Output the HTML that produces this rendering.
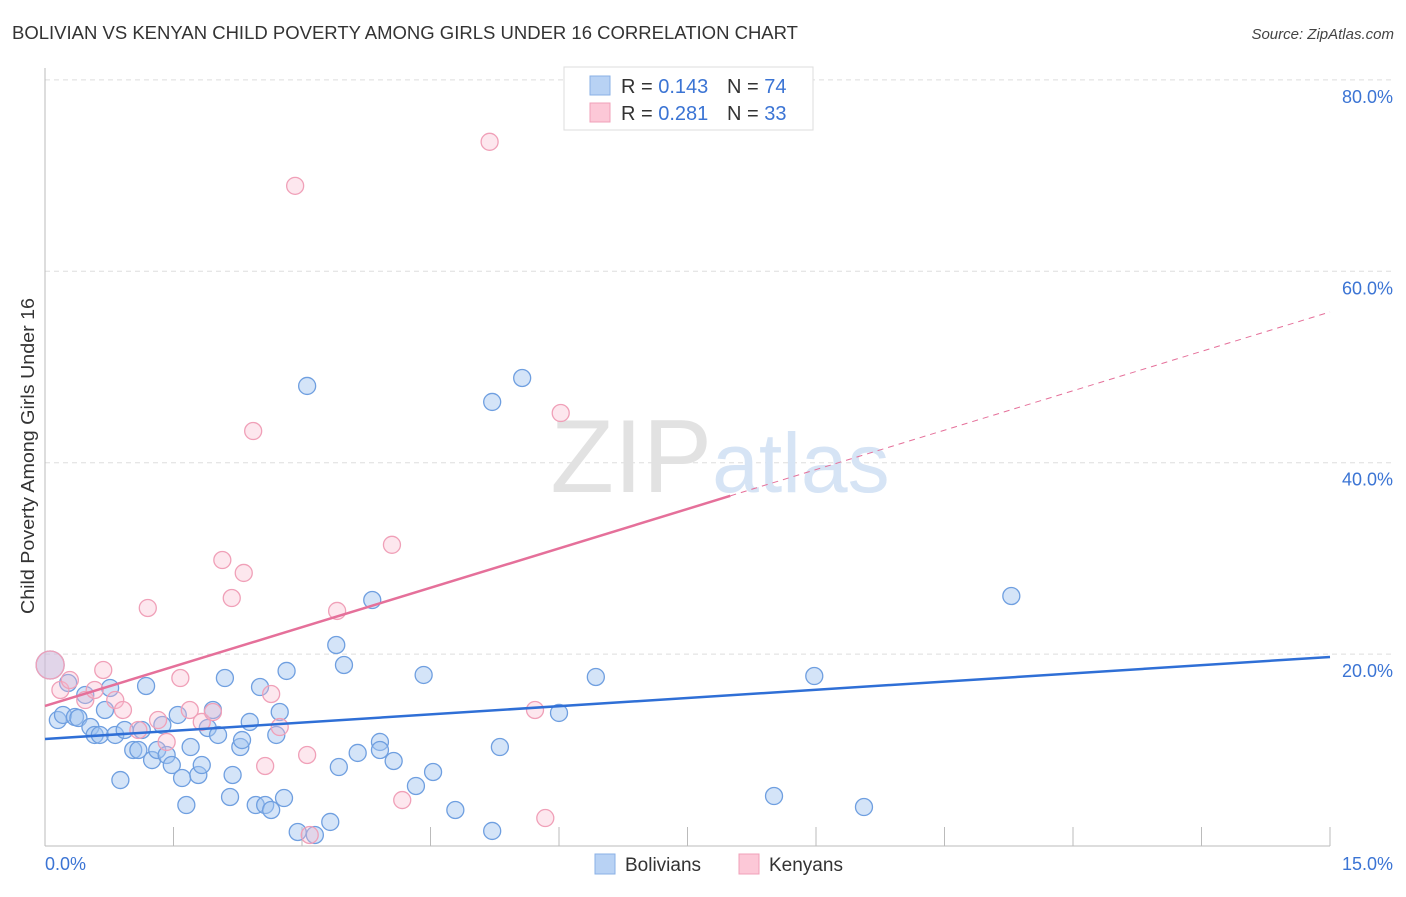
<!DOCTYPE html>
<html><head><meta charset="utf-8"><style>
body{margin:0;background:#fff;font-family:"Liberation Sans",sans-serif;}
svg text{font-family:"Liberation Sans",sans-serif;}
</style></head><body>
<svg id="chart" width="1406" height="892" xmlns="http://www.w3.org/2000/svg">
<text x="12" y="39" font-size="18" fill="#333" textLength="786" lengthAdjust="spacingAndGlyphs">BOLIVIAN VS KENYAN CHILD POVERTY AMONG GIRLS UNDER 16 CORRELATION CHART</text>
<text x="1394" y="39" font-size="15" fill="#444" text-anchor="end" font-style="italic">Source: ZipAtlas.com</text>
<text transform="translate(34,456) rotate(-90)" font-size="18" fill="#333" text-anchor="middle" textLength="316" lengthAdjust="spacingAndGlyphs">Child Poverty Among Girls Under 16</text>
<g id="grid"></g>
<g id="axes"></g>
<text x="720" y="492" font-size="104" text-anchor="middle" fill="#e2e2e2" font-family="Liberation Serif">ZIP<tspan fill="#d6e4f5" font-family="Liberation Sans" font-size="84">atlas</tspan></text>
<g id="points"></g>
<g id="lines"></g>
<g>
<rect x="564" y="67" width="249" height="63" fill="#fff" stroke="#ddd"/>
<rect x="590" y="76" width="20" height="19" fill="#b8d2f4" stroke="#8ab0e6"/>
<rect x="590" y="103" width="20" height="19" fill="#fcc8d7" stroke="#f0a0b8"/>
<text x="621" y="93" font-size="20" fill="#333">R = <tspan fill="#3b74d4">0.143</tspan></text>
<text x="727" y="93" font-size="20" fill="#333">N = <tspan fill="#3b74d4">74</tspan></text>
<text x="621" y="120" font-size="20" fill="#333">R = <tspan fill="#3b74d4">0.281</tspan></text>
<text x="727" y="120" font-size="20" fill="#333">N = <tspan fill="#3b74d4">33</tspan></text>
</g>
<g>
<rect x="595" y="854" width="20" height="20" fill="#b8d2f4" stroke="#8ab0e6"/>
<text x="625" y="871" font-size="19" fill="#333">Bolivians</text>
<rect x="739" y="854" width="20" height="20" fill="#fcc8d7" stroke="#f0a0b8"/>
<text x="769" y="871" font-size="19" fill="#333">Kenyans</text>
</g>
</svg>
<script>
const yTicks=[20,40,60,80];
const yTickLabels=["20.0%","40.0%","60.0%","80.0%"];
const xTickVals=[0,1.5,3,4.5,6,7.5,9,10.5,12,13.5,15];
const xEndLabels=["0.0%","15.0%"];
const blueX=[0.06,0.15,0.21,0.27,0.35,0.39,0.47,0.53,0.58,0.64,0.70,0.76,0.82,0.88,0.93,1.03,1.09,1.13,1.18,1.25,1.31,1.37,1.42,1.48,1.55,1.60,1.65,1.70,1.79,1.83,1.90,1.96,2.02,2.10,2.16,2.19,2.28,2.30,2.39,2.46,2.51,2.57,2.64,2.70,2.74,2.79,2.82,2.95,3.06,3.15,3.33,3.40,3.43,3.49,3.65,3.82,3.91,3.91,4.07,4.33,4.42,4.53,4.79,5.22,5.22,5.31,5.57,6.00,6.43,8.51,8.98,9.56,11.28];
const blueY=[18.86,13.11,13.64,16.98,13.43,13.32,15.73,12.38,11.55,11.55,14.16,16.46,11.55,6.84,12.07,9.98,9.98,12.07,16.67,8.93,9.98,12.59,9.46,8.41,13.64,7.05,4.23,10.29,7.37,8.41,12.28,14.16,11.55,17.50,5.07,7.37,10.29,11.02,12.91,4.23,16.56,4.23,3.71,11.55,13.95,4.96,18.24,1.41,48.02,1.10,2.46,20.95,8.20,18.86,9.67,25.65,10.82,9.98,8.83,6.22,17.82,7.68,3.71,46.35,1.52,10.29,48.85,13.85,17.61,5.17,17.71,4.02,26.07];
const pinkX=[0.06,0.18,0.29,0.47,0.58,0.68,0.82,0.91,1.09,1.20,1.32,1.42,1.58,1.69,1.83,1.96,2.07,2.18,2.32,2.43,2.57,2.64,2.74,2.92,3.06,3.09,3.41,4.05,4.17,5.19,5.72,5.84,6.02];
const pinkY=[18.86,16.25,17.29,15.20,16.25,18.34,15.20,14.16,12.07,24.82,13.11,10.82,17.50,14.16,12.91,13.95,29.83,25.86,28.48,43.31,8.31,15.83,12.38,68.93,9.46,1.10,24.51,31.42,4.75,73.53,14.16,2.87,45.19];
const blueTrend=[11.13,19.70];
const pinkTrend=[14.58,55.75];
const pinkSolidEnd=8.0;

const NS="http://www.w3.org/2000/svg";
const X=v=>45+v/15*1285;
const Y=v=>845.5-v*9.57;
function mk(tag,attrs,parent){const e=document.createElementNS(NS,tag);for(const k in attrs)e.setAttribute(k,attrs[k]);document.getElementById(parent).appendChild(e);return e;}
yTicks.forEach((t,i)=>{
 const l=mk('line',{x1:45,x2:1393,y1:Y(t),y2:Y(t),stroke:'#ddd','stroke-dasharray':'5,4'},'grid');
 
 
 const tx=mk('text',{x:1393,y:Y(t)+23,'font-size':18,fill:'#3b74d4','text-anchor':'end'},'axes');
 
 
 tx.textContent=yTickLabels[i];
});
const ax=mk('line',{x1:45,x2:45,y1:68,y2:846,stroke:'#bbb'},'axes');


const bx=mk('line',{x1:45,x2:1330,y1:846,y2:846,stroke:'#bbb'},'axes');


xTickVals.forEach(v=>{
 const t=mk('line',{x1:X(v),x2:X(v),y1:827,y2:846,stroke:'#bbb'},'axes');
 
 
});
[[0,'start',45],[15,'end',1393]].forEach((a,i)=>{
 const t=mk('text',{x:a[2],y:870,'font-size':18,fill:'#3b74d4','text-anchor':a[1]},'axes');
 
 
 t.textContent=xEndLabels[i];
});
function dots(xs,ys,fill,stroke,name){
 xs.forEach((x,i)=>{
  const r=i===0?14:8.5;
  const c=mk('circle',{cx:X(x),cy:Y(ys[i]),r:r,fill:fill,stroke:stroke,'stroke-width':1.3},'points');
  
  
 });
}
dots(blueX,blueY,'rgba(160,195,240,0.45)','#6f9fe0','bolivian-point');
dots(pinkX,pinkY,'rgba(250,185,205,0.35)','#f0a0b8','kenyan-point');
const bl=mk('line',{x1:X(0),y1:Y(blueTrend[0]),x2:X(15),y2:Y(blueTrend[1]),stroke:'#2f6fd6','stroke-width':2.5},'lines');


const py=x=>pinkTrend[0]+(pinkTrend[1]-pinkTrend[0])*x/15;
const pl=mk('line',{x1:X(0),y1:Y(py(0)),x2:X(pinkSolidEnd),y2:Y(py(pinkSolidEnd)),stroke:'#e5709a','stroke-width':2.5},'lines');


const pd=mk('line',{x1:X(pinkSolidEnd),y1:Y(py(pinkSolidEnd)),x2:X(15),y2:Y(py(15)),stroke:'#e5709a','stroke-width':1,'stroke-dasharray':'6,5'},'lines');


</script>
</body></html>
